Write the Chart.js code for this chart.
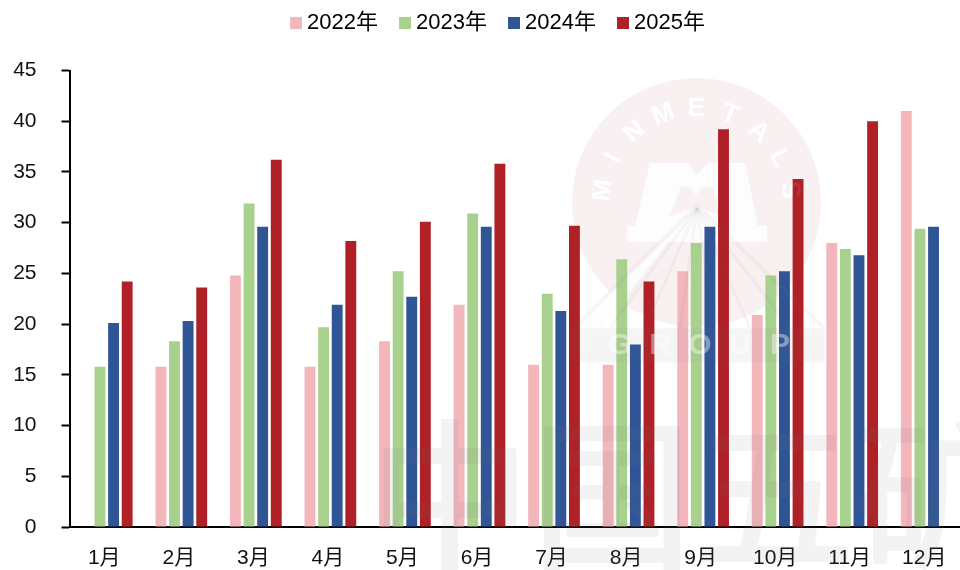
<!DOCTYPE html>
<html><head><meta charset="utf-8">
<style>html,body{margin:0;padding:0;background:#fff;overflow:hidden;width:960px;height:570px}#w{width:974px;height:570px;position:absolute;left:0;top:0}</style>
<script src="https://cdn.jsdelivr.net/npm/chart.js@4"></script>
</head><body><div id="w"><canvas id="c" width="974" height="570"></canvas></div>
<script>
const categories=['1月','2月','3月','4月','5月','6月','7月','8月','9月','10月','11月','12月'];
const seriesNames=['2022年','2023年','2024年','2025年'];
const colors=['#F2B6BB','#A9D18E','#2F5597','#AF2027'];
const v2022=[null,15.8,24.8,15.8,18.3,21.9,16,16,25.2,20.9,28,41];
const v2023=[15.8,18.3,31.9,19.7,25.2,30.9,23,26.4,28,24.8,27.4,29.4];
const v2024=[20.1,20.3,29.6,21.9,22.7,29.6,21.3,18,29.6,25.2,26.8,29.6];
const v2025=[24.2,23.6,36.2,28.2,30.1,35.8,29.7,24.2,39.2,34.3,40,null];
const yTicks=[0,5,10,15,20,25,30,35,40,45];
const font='"Liberation Sans","Noto Sans CJK SC",sans-serif';
const TOP=-14;
const swatch=c=>{const s=document.createElement('canvas');s.width=13;s.height=12;const g=s.getContext('2d');g.fillStyle=c;g.fillRect(1,0,12,12);return s;};
const poly=(x,pts)=>{x.beginPath();pts.forEach((p,i)=>i?x.lineTo(p[0],p[1]):x.moveTo(p[0],p[1]));x.closePath();x.fill();};
const logoText=(x,alpha)=>{
  x.fillStyle='rgba(255,255,255,'+alpha+')';x.font='bold 26px "Liberation Sans"';x.textAlign='center';x.textBaseline='middle';
  const L='MINMETALS';for(let i=0;i<L.length;i++){const a=-Math.PI/2+(i-4)*0.36;x.save();x.translate(696.5+94*Math.cos(a),202.5+94*Math.sin(a));x.rotate(a+Math.PI/2);x.fillText(L[i],0,0);x.restore();}
};
const watermark={id:'wm',
 beforeLayout(ch){const l=ch.legend;if(l&&!l._f){l._f=1;const o=l.fit;l.fit=function(){o.call(this);this.height=70.5-TOP;};}},
 afterLayout(ch){ch.legend.left=36;},
 beforeDatasetsDraw(ch){const x=ch.ctx;x.save();
  x.fillStyle='#F9F0F1';x.beginPath();x.arc(696.5,202.5,124.5,0,7);x.fill();
  x.fillStyle='#FDFDFD';
  poly(x,[[697,206],[572,330],[825,330],[825,365],[572,365]]);
  poly(x,[[627,242],[627,226],[635,226],[650,163],[687,163],[697,175],[707,163],[745,163],[758,226],[767,226],[767,242]]);
  x.fillStyle='#F9F0F1';
  poly(x,[[670,216],[681,186],[691,188],[696,195],[701,188],[712,186],[722,216],[697,207]]);
  logoText(x,1);
  x.restore();},
 afterDatasetsDraw(ch){const x=ch.ctx;x.save();
  logoText(x,.08);
  x.strokeStyle='rgba(120,120,120,.06)';x.lineWidth=4;
  x.beginPath();x.moveTo(574,328);x.lineTo(697,206);x.lineTo(824,328);x.stroke();
  x.lineWidth=3;
  for(const tx of [610,645,680,715,750,790]){x.beginPath();x.moveTo(697,208);x.lineTo(tx,328);x.stroke();}
  x.fillStyle='rgba(120,120,120,.06)';x.fillRect(572,328,253,34);
  x.fillStyle='rgba(255,255,255,.4)';x.font='bold 30px "Liberation Sans"';x.textAlign='center';x.textBaseline='middle';
  'GROUP'.split('').forEach((c,i)=>x.fillText(c,620+i*40,346));
  const o=document.createElement('canvas');o.width=974;o.height=570;const g=o.getContext('2d');
  g.fillStyle=g.strokeStyle='#787878';g.lineWidth=4;g.lineJoin='round';g.font='160px "Noto Sans CJK SC"';g.textAlign='left';g.textBaseline='alphabetic';
  '中国五矿'.split('').forEach((c,i)=>{g.fillText(c,370+i*162,556);g.strokeText(c,370+i*162,556);});
  x.globalAlpha=.09;x.drawImage(o,0,0);
  x.restore();}
};
const imgs=colors.map(swatch);
new Chart(document.getElementById('c'),{type:'bar',
 data:{labels:categories,datasets:seriesNames.map((n,i)=>({label:n,data:[v2022,v2023,v2024,v2025][i],backgroundColor:colors[i],categoryPercentage:.73,barPercentage:.8}))},
 plugins:[watermark],
 options:{responsive:false,animation:false,
  layout:{padding:{left:0,right:10,top:TOP,bottom:0}},
  plugins:{tooltip:{enabled:false},legend:{position:'top',align:'center',labels:{color:'#111',font:{family:font,size:22},usePointStyle:true,pointStyleWidth:1,padding:26,generateLabels:c=>c.data.datasets.map((d,i)=>({text:d.label,fillStyle:colors[i],strokeStyle:colors[i],lineWidth:0,datasetIndex:i,pointStyle:imgs[i]}))}}},
  scales:{
   x:{offset:true,afterFit:s=>{s.height=43},grid:{display:false,drawTicks:false},border:{color:'#000',width:2},ticks:{color:'#111',font:{family:font,size:21},maxRotation:0,autoSkip:false,padding:19,labelOffset:-2.5}},
   y:{min:0,max:45,afterFit:s=>{s.width=69.5},afterBuildTicks:a=>{a.ticks=yTicks.map(v=>({value:v}))},grid:{display:true,drawOnChartArea:false,drawTicks:true,tickLength:8,tickColor:'#000',tickWidth:2},border:{color:'#000',width:2},ticks:{color:'#111',font:{family:'"Liberation Sans"',size:21},padding:25}}
  }}});
</script></body></html>
